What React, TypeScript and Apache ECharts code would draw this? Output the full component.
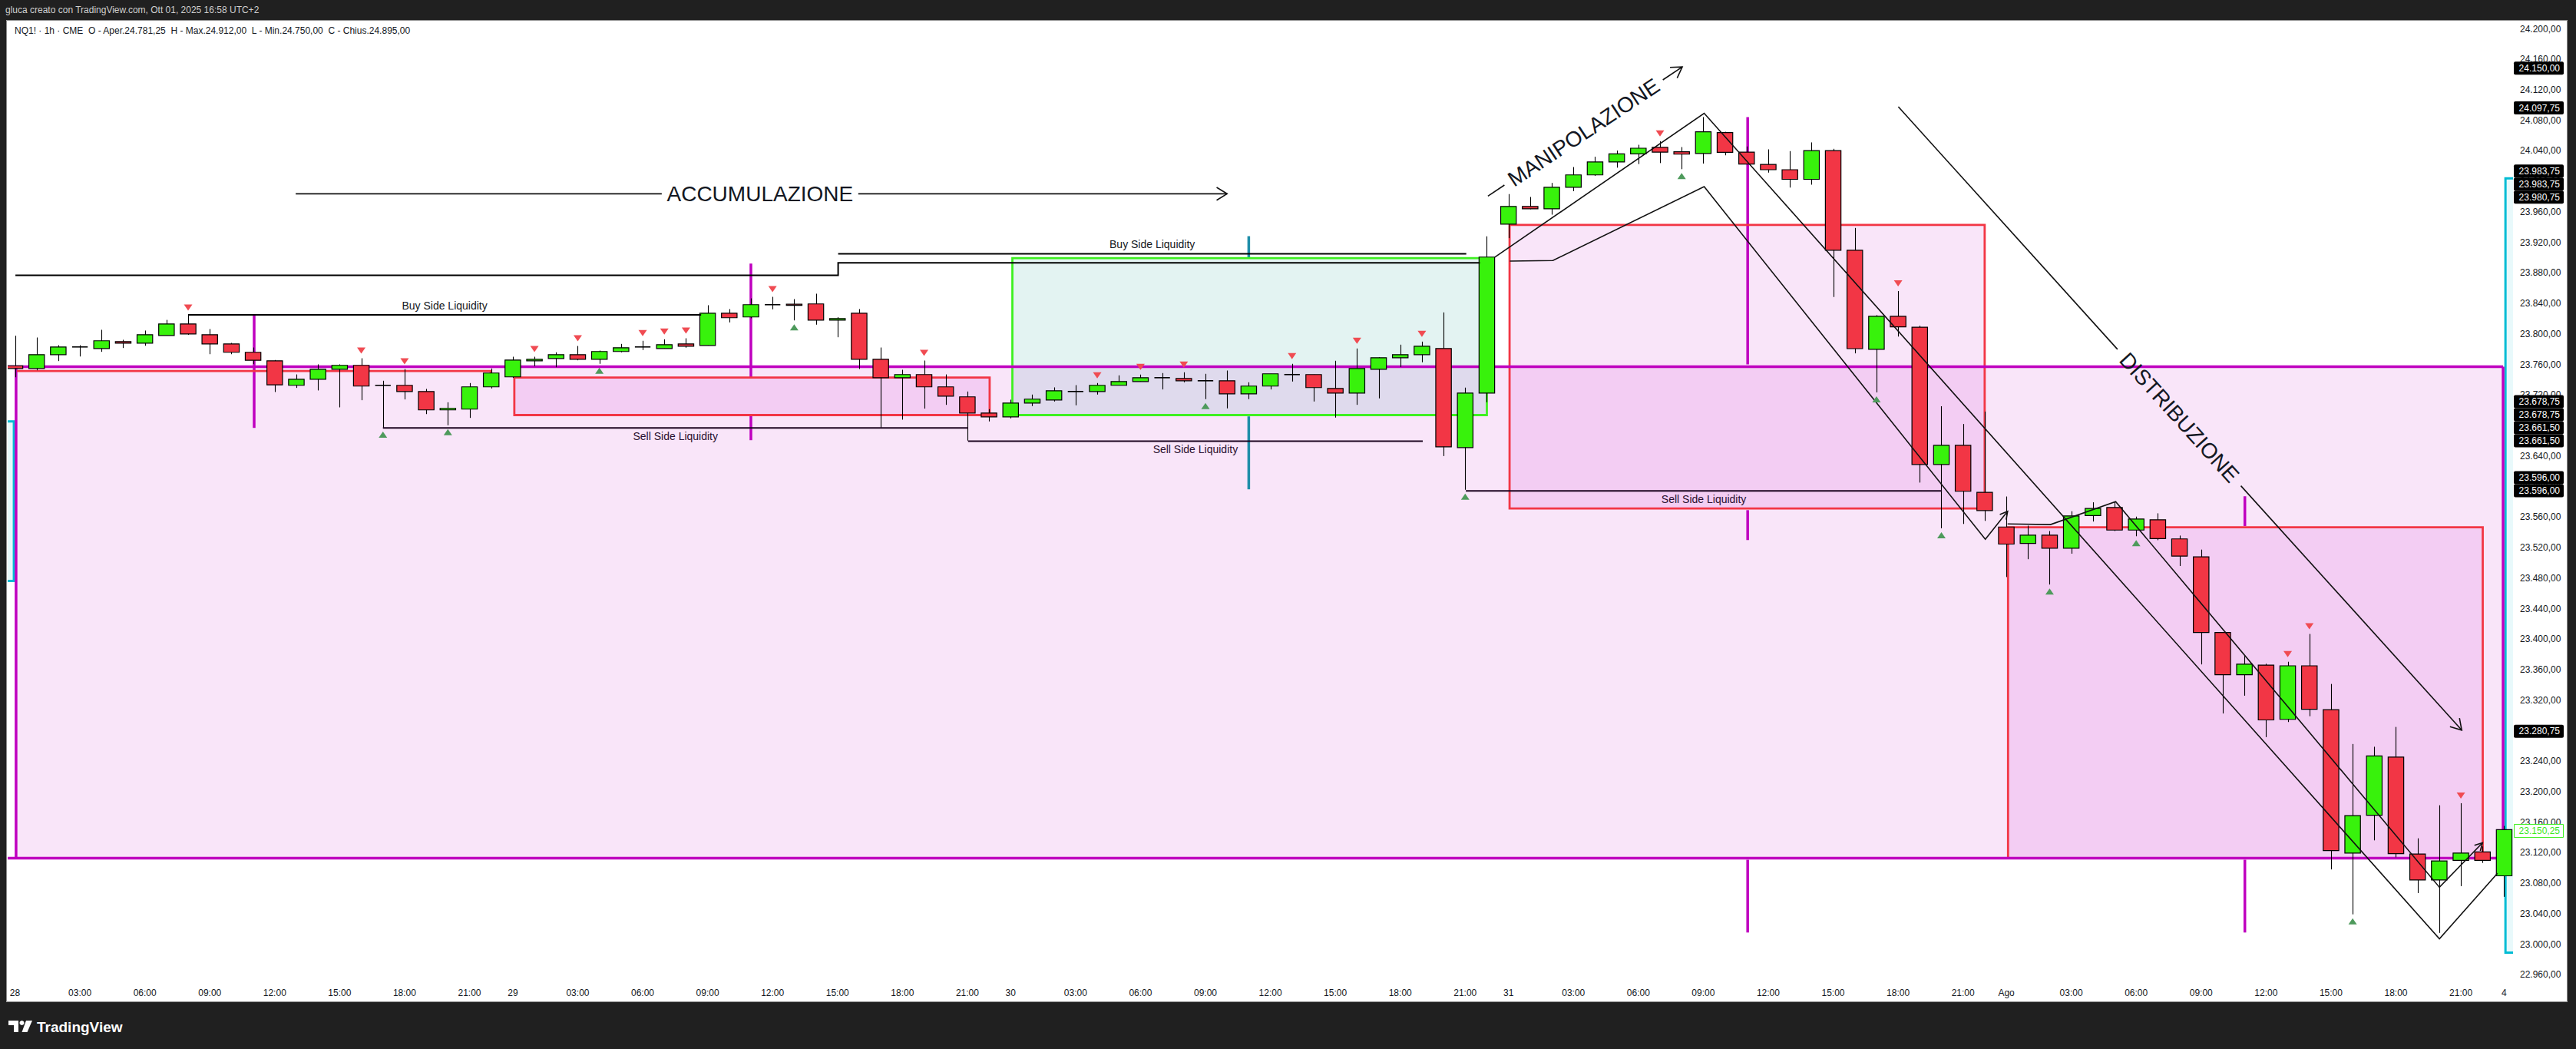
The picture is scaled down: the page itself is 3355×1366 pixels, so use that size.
import React, { useEffect, useRef } from "react";
import * as echarts from "echarts";

// ---------- candles (NQ1! 1h, first bar = Jul 28 00:00 UTC+2, 23 bars per session) ----------
const OPEN = [
  23758.4, 23754.8, 23772.9, 23783.0, 23781.0, 23790.0, 23788.0, 23798.0, 23813.2, 23799.0,
  23787.0, 23776.0, 23764.9, 23732.7, 23740.7, 23753.8, 23758.9, 23732.7, 23732.7, 23724.6,
  23700.5, 23701.5, 23730.7, 23743.8, 23764.9, 23767.9, 23772.9, 23766.9, 23777.0, 23783.0,
  23781.0, 23787.0, 23785.0, 23827.3, 23822.3, 23838.4, 23839.0, 23839.4, 23818.2, 23827.3,
  23766.9, 23742.7, 23746.8, 23730.7, 23717.6, 23696.4, 23691.4, 23709.5, 23713.5, 23724.6,
  23724.6, 23732.7, 23737.7, 23742.7, 23741.7, 23738.7, 23738.7, 23721.6, 23731.7, 23746.8,
  23746.8, 23728.6, 23722.6, 23753.8, 23768.9, 23772.9, 23781.0, 23651.1, 23722.6, 23944.0,
  23967.2, 23964.0, 23992.3, 24008.5, 24025.4, 24036.1, 24044.6, 24038.8, 24036.5, 24063.9,
  24038.4, 24022.3, 24015.3, 24002.7, 24040.4, 23909.8, 23780.0, 23823.2, 23808.9, 23629.0,
  23654.0, 23592.5, 23547.0, 23525.5, 23536.3, 23519.2, 23561.9, 23572.6, 23543.0, 23556.5,
  23531.4, 23507.9, 23408.7, 23353.4, 23366.0, 23294.9, 23365.1, 23307.5, 23119.7, 23169.2,
  23245.5, 23118.4, 23084.3, 23110.0, 23121.1, 23089.8,
];
const HIGH = [
  23797.7, 23795.4, 23785.3, 23785.3, 23805.5, 23792.4, 23804.5, 23818.5, 23824.6, 23806.5,
  23788.3, 23782.3, 23765.9, 23747.0, 23760.2, 23760.2, 23768.2, 23738.7, 23754.1, 23728.0,
  23710.5, 23735.7, 23754.8, 23770.2, 23770.2, 23776.0, 23784.3, 23778.3, 23787.0, 23791.1,
  23793.0, 23794.4, 23837.7, 23832.6, 23846.7, 23848.7, 23845.7, 23852.8, 23822.0, 23832.6,
  23782.3, 23753.1, 23765.2, 23747.0, 23724.6, 23701.5, 23713.9, 23720.6, 23730.0, 23733.0,
  23735.7, 23745.8, 23746.8, 23748.8, 23749.8, 23747.8, 23752.1, 23736.7, 23747.8, 23760.9,
  23746.8, 23764.9, 23781.0, 23769.5, 23786.0, 23790.0, 23828.3, 23729.7, 23928.0, 23983.4,
  23979.6, 23998.0, 24018.8, 24032.3, 24040.4, 24048.0, 24052.7, 24045.0, 24084.3, 24065.0,
  24045.8, 24042.0, 24039.7, 24051.1, 24042.7, 23939.0, 23824.7, 23856.3, 23810.8, 23705.3,
  23682.0, 23698.3, 23587.0, 23548.8, 23541.7, 23567.7, 23579.4, 23580.3, 23560.6, 23565.0,
  23535.8, 23517.4, 23408.7, 23378.1, 23367.8, 23370.4, 23406.9, 23341.3, 23262.6, 23259.0,
  23285.0, 23139.0, 23182.3, 23185.0, 23128.3, 23155.2,
];
const LOW = [
  23743.3, 23752.4, 23764.5, 23770.5, 23776.6, 23781.6, 23784.6, 23798.0, 23799.0, 23773.5,
  23773.5, 23760.5, 23723.9, 23729.3, 23726.0, 23703.8, 23713.2, 23677.0, 23714.2, 23695.0,
  23680.3, 23690.0, 23728.6, 23742.4, 23757.6, 23756.4, 23765.5, 23760.9, 23776.0, 23779.0,
  23781.0, 23782.0, 23785.0, 23815.2, 23820.6, 23832.3, 23817.8, 23812.2, 23795.7, 23754.1,
  23677.0, 23687.7, 23702.2, 23707.1, 23660.2, 23685.4, 23689.4, 23705.5, 23711.5, 23706.5,
  23720.6, 23732.7, 23737.7, 23727.3, 23736.7, 23714.6, 23702.5, 23714.6, 23727.3, 23737.7,
  23711.5, 23690.4, 23707.1, 23715.6, 23756.8, 23762.9, 23640.0, 23595.8, 23710.5, 23925.6,
  23963.5, 23956.4, 23987.2, 24007.3, 24018.0, 24022.7, 24024.0, 24016.0, 24023.4, 24034.2,
  24022.7, 24011.5, 23991.9, 23995.7, 23848.5, 23774.6, 23723.4, 23796.6, 23605.2, 23545.3,
  23551.0, 23555.0, 23481.4, 23504.8, 23471.6, 23512.0, 23554.2, 23541.7, 23534.9, 23529.7,
  23495.9, 23366.9, 23302.6, 23325.9, 23271.6, 23291.4, 23299.0, 23098.2, 23039.3, 23136.3,
  23114.0, 23067.2, 23015.0, 23076.2, 23106.7, 23062.3,
];
const CLOSE = [
  23754.8, 23772.9, 23783.0, 23783.0, 23791.1, 23788.0, 23799.0, 23813.2, 23800.1, 23787.0,
  23776.0, 23765.5, 23733.3, 23740.7, 23753.8, 23758.9, 23731.7, 23732.7, 23724.6, 23700.5,
  23702.5, 23730.7, 23748.8, 23765.9, 23766.9, 23772.9, 23766.9, 23777.0, 23782.0, 23783.0,
  23786.0, 23784.0, 23827.3, 23821.3, 23838.4, 23838.4, 23837.5, 23818.2, 23820.2, 23766.9,
  23742.7, 23746.8, 23730.7, 23718.6, 23696.4, 23691.4, 23709.5, 23714.6, 23725.6, 23724.6,
  23732.7, 23737.7, 23742.7, 23742.7, 23738.7, 23738.7, 23721.6, 23731.7, 23747.8, 23746.8,
  23729.7, 23722.6, 23754.8, 23768.9, 23772.9, 23784.0, 23652.1, 23722.6, 23900.8, 23967.2,
  23964.0, 23992.3, 24008.5, 24025.4, 24036.1, 24043.5, 24038.4, 24035.7, 24065.1, 24038.0,
  24022.7, 24015.3, 24002.7, 24040.4, 23909.8, 23780.8, 23823.2, 23809.3, 23629.0, 23654.0,
  23593.8, 23568.6, 23524.6, 23536.3, 23519.2, 23561.5, 23571.3, 23543.0, 23557.5, 23531.8,
  23508.8, 23408.7, 23353.4, 23367.3, 23294.1, 23365.1, 23308.0, 23122.9, 23168.7, 23246.9,
  23118.8, 23084.3, 23109.4, 23119.7, 23110.0, 23150.25,
];

// pivot markers (bar indices)
const SELL_MARKS = [8, 16, 18, 24, 26, 29, 30, 31, 35, 42, 50, 52, 54, 59, 62, 65, 76, 87, 105, 106, 113];
const BUY_MARKS = [17, 20, 27, 36, 55, 67, 77, 86, 89, 94, 98, 108];

// ---------- axes ----------
const TIME_TICK_IDX = [
  0, 3, 6, 9, 12, 15, 18, 21,
  23, 26, 29, 32, 35, 38, 41, 44,
  46, 49, 52, 55, 58, 61, 64, 67,
  69, 72, 75, 78, 81, 84, 87, 90,
  92, 95, 98, 101, 104, 107, 110, 113,
  115,
];
const TIME_TICK_TXT = [
  "28", "03:00", "06:00", "09:00", "12:00", "15:00", "18:00", "21:00",
  "29", "03:00", "06:00", "09:00", "12:00", "15:00", "18:00", "21:00",
  "30", "03:00", "06:00", "09:00", "12:00", "15:00", "18:00", "21:00",
  "31", "03:00", "06:00", "09:00", "12:00", "15:00", "18:00", "21:00",
  "Ago", "03:00", "06:00", "09:00", "12:00", "15:00", "18:00", "21:00",
  "4",
];
const PRICE_TICKS = [
  22960, 23000, 23040, 23080, 23120, 23160, 23200, 23240, 23280, 23320, 23360,
  23400, 23440, 23480, 23520, 23560, 23600, 23640, 23680, 23720, 23760, 23800,
  23840, 23880, 23920, 23960, 24000, 24040, 24080, 24120, 24160, 24200,
];
const TAG_PRICES = [24150, 24097.75, 23983.75, 23983.75, 23980.75, 23678.75, 23678.75, 23661.5, 23661.5, 23596, 23596, 23280.75];
const LAST_PRICE = 23150.25;

// ---------- drawings (bar index, price) ----------
// zones: [xStart, xEnd, priceTop, priceBottom]
const MAGENTA_ZONE = [0.05, 114.95, 23757.1, 23112.9];
const RED_ZONES = [
  [23.07, 45.03, 23743.0, 23693.7],
  [69.05, 91.0, 23942.9, 23571.2],
  [92.08, 114.01, 23546.6, 23112.9],
];
const GREEN_ZONE = [46.08, 68.0, 23899.4, 23693.7];
const CYAN_ZONES = [
  [-2, -0.05, 23685.4, 23476.3],
  [115.06, 118, 24004.0, 22989.1],
];
// liquidity lines: [xStart, xEnd, price]
const BUY_SIDE = [
  [8.0, 31.7, 23825.0],
  [38.03, 67.05, 23905.1],
];
const SELL_SIDE = [
  [17.0, 44.03, 23676.9],
  [44.03, 65.04, 23659.5],
  [67.03, 89.02, 23594.3],
];
const STEP_LINE = [[0.02, 23876.9], [38.03, 23876.9], [38.03, 23893.3], [67.68, 23893.3]];
const RED_EDGE = [[0.09, 23751.4], [21.98, 23751.4], [21.98, 23747.5]];
// session verticals: [x, priceTop, priceBottom]
const MAGENTA_SEGMENTS = [
  [11.05, 23824.6, 23676.9],
  [34.0, 23892.3, 23742.3],
  [34.0, 23693.7, 23660.8],
  [80.05, 24084.2, 23760.1],
  [80.05, 23569.1, 23529.9],
  [80.05, 23110.9, 23015.5],
  [103.02, 23587.3, 23548.2],
  [103.02, 23110.9, 23015.5],
];
const TEAL_SEGMENTS = [
  [57.0, 23928.2, 23899.4],
  [57.0, 23692.0, 23596.4],
];
// trend polylines
const MANIP_UPPER = [[68.37, 23900.6], [78.04, 24089.3], [112.01, 23007.3], [114.69, 23093.1]];
const MANIP_LOWER = [[69.06, 23895.5], [71.05, 23896.3], [78.04, 23993.1], [91.03, 23530.9], [92.06, 23567.7]];
const DIST_CHANNEL = [[92.06, 23551.1], [94.04, 23550.2], [97.05, 23580.3], [112.01, 23074.8], [114.0, 23133.1]];
// labelled arrows: [start, end]
const ACCUM_ARROW = [[12.97, 23983.75], [56.0, 23983.75]];
const MANIP_ARROW = [[68.05, 23980.75], [77.03, 24150.0]];
const DIST_ARROW = [[87.01, 24097.75], [113.04, 23280.75]];

// ---------- layout / style ----------
const W = 3355;
const H = 1366;
const X_MIN = -0.337;
const X_MAX = 115.41;
const Y_MIN = 22951.4;
const Y_MAX = 24210.57;
const FONT = "Liberation Sans, Arial, sans-serif";
const GREEN = "#38f20c";
const RED = "#f23645";
const INK = "#131722";
const MAGENTA = "#bf00bf";
const TEAL = "#1f8ea9";
const CYAN = "#00bcd4";

function fmtIt(v: number) {
  const s = v.toFixed(2);
  const [a, b] = s.split(".");
  return a.replace(/\B(?=(\d{3})+(?!\d))/g, ".") + "," + b;
}

function seg(a: number[], b: number[], stroke: string, lw: number) {
  return { type: "line", shape: { x1: a[0], y1: a[1], x2: b[0], y2: b[1] }, style: { stroke, lineWidth: lw } };
}
function poly(points: number[][], stroke: string, lw: number) {
  return { type: "polyline", shape: { points }, style: { stroke, lineWidth: lw, fill: "none" } };
}
function arrowHead(from: number[], tip: number[], stroke: string, lw: number, len = 13, spread = 0.5) {
  const th = Math.atan2(tip[1] - from[1], tip[0] - from[0]);
  const p1 = [tip[0] - len * Math.cos(th - spread), tip[1] - len * Math.sin(th - spread)];
  const p2 = [tip[0] - len * Math.cos(th + spread), tip[1] - len * Math.sin(th + spread)];
  return poly([p1, tip, p2], stroke, lw);
}
function lerp(a: number[], b: number[], t: number) {
  return [a[0] + (b[0] - a[0]) * t, a[1] + (b[1] - a[1]) * t];
}

function buildOption() {
  const zoneRect = (api: any, z: number[]) => {
    const a = api.coord([z[0], z[2]]);
    const b = api.coord([z[1], z[3]]);
    return { x: a[0], y: a[1], width: b[0] - a[0], height: b[1] - a[1] };
  };

  const fillsRender = (params: any, api: any) => {
    const ch: any[] = [];
    CYAN_ZONES.forEach((z) => {
      const r = zoneRect(api, z);
      ch.push({ type: "rect", shape: r, style: { fill: "rgba(0,188,212,0.09)", stroke: CYAN, lineWidth: 3 } });
    });
    ch.push({ type: "rect", shape: zoneRect(api, GREEN_ZONE), style: { fill: "rgba(0,150,136,0.11)" } });
    ch.push({ type: "rect", shape: zoneRect(api, MAGENTA_ZONE), style: { fill: "rgba(192,0,192,0.10)" } });
    RED_ZONES.forEach((z) => {
      ch.push({ type: "rect", shape: zoneRect(api, z), style: { fill: "rgba(192,0,192,0.10)" } });
    });
    MAGENTA_SEGMENTS.forEach((s) => ch.push(seg(api.coord([s[0], s[1]]), api.coord([s[0], s[2]]), MAGENTA, 3.5)));
    TEAL_SEGMENTS.forEach((s) => ch.push(seg(api.coord([s[0], s[1]]), api.coord([s[0], s[2]]), TEAL, 3.5)));
    ch.push({ type: "rect", shape: zoneRect(api, GREEN_ZONE), style: { fill: "none", stroke: "#3ef021", lineWidth: 2.8 } });
    RED_ZONES.forEach((z) => {
      ch.push({ type: "rect", shape: zoneRect(api, z), style: { fill: "none", stroke: RED, lineWidth: 2.8 } });
    });
    const mz = MAGENTA_ZONE;
    ch.push(seg(api.coord([X_MIN, mz[2]]), api.coord([mz[1], mz[2]]), MAGENTA, 3.5));
    ch.push(seg(api.coord([X_MIN, mz[3]]), api.coord([mz[1], mz[3]]), MAGENTA, 3.5));
    ch.push(seg(api.coord([mz[0], mz[2]]), api.coord([mz[0], mz[3]]), MAGENTA, 3.5));
    ch.push(seg(api.coord([mz[1], mz[2]]), api.coord([mz[1], mz[3]]), MAGENTA, 3.5));
    ch.push(poly(RED_EDGE.map((p) => api.coord(p)), RED, 2.8));
    return { type: "group", children: ch };
  };

  const candleRender = (params: any, api: any) => {
    const i = api.value(0);
    const o = api.value(1);
    const c = api.value(2);
    const l = api.value(3);
    const h = api.value(4);
    const po = api.coord([i, o]);
    const x = po[0];
    const yo = po[1];
    const yc = api.coord([i, c])[1];
    const yl = api.coord([i, l])[1];
    const yh = api.coord([i, h])[1];
    const bw = api.size([1, 0])[0] * 0.72;
    const top = Math.min(yo, yc);
    const bot = Math.max(yo, yc);
    const xs = Math.round(x) + 0.5;
    const ch: any[] = [seg([xs, yh], [xs, yl], "#000", 1.1)];
    if (bot - top < 1.2) {
      const ym = (top + bot) / 2;
      ch.push(seg([x - bw / 2, ym], [x + bw / 2, ym], "#000", 1.6));
    } else {
      ch.push({
        type: "rect",
        shape: { x: x - bw / 2, y: top, width: bw, height: bot - top },
        style: { fill: c > o ? GREEN : RED, stroke: "#000", lineWidth: 1.2 },
      });
    }
    return { type: "group", children: ch };
  };

  const overlayRender = (params: any, api: any) => {
    const ch: any[] = [];
    const C = (p: number[]) => api.coord(p);
    ch.push(poly(STEP_LINE.map(C), "#000", 2));
    BUY_SIDE.forEach((b) => {
      const a = C([b[0], b[2]]);
      const e = C([b[1], b[2]]);
      ch.push(seg(a, e, "#000", 2));
      ch.push({
        type: "text",
        x: (a[0] + e[0]) / 2,
        y: a[1] - 12,
        style: { text: "Buy Side Liquidity", fill: INK, fontSize: 14, fontFamily: FONT, align: "center", verticalAlign: "middle" },
      });
    });
    SELL_SIDE.forEach((b) => {
      const a = C([b[0], b[2]]);
      const e = C([b[1], b[2]]);
      ch.push(seg(a, e, "#1c0420", 2));
      ch.push({
        type: "text",
        x: (a[0] + e[0]) / 2,
        y: a[1] + 11,
        style: { text: "Sell Side Liquidity", fill: "#2a1030", fontSize: 14, fontFamily: FONT, align: "center", verticalAlign: "middle" },
      });
    });
    ch.push(poly(MANIP_UPPER.map(C), "#111", 1.6));
    const lower = MANIP_LOWER.map(C);
    ch.push(poly(lower, "#111", 1.6));
    ch.push(arrowHead(lower[lower.length - 2], lower[lower.length - 1], "#111", 1.6, 11));
    const dc = DIST_CHANNEL.map(C);
    ch.push(poly(dc, "#111", 1.6));
    ch.push(arrowHead(dc[dc.length - 2], dc[dc.length - 1], "#111", 1.6, 11));

    const labelled = (pts: number[][], text: string, g0: number, g1: number, withHead: boolean) => {
      const a = C(pts[0]);
      const b = C(pts[1]);
      ch.push(seg(a, lerp(a, b, g0), "#111", 1.6));
      ch.push(seg(lerp(a, b, g1), b, "#111", 1.6));
      if (withHead) ch.push(arrowHead(a, b, "#111", 1.6, 16, 0.55));
      const m = lerp(a, b, (g0 + g1) / 2);
      const rot = Math.atan2(-(b[1] - a[1]), b[0] - a[0]);
      ch.push({
        type: "text",
        x: m[0],
        y: m[1],
        rotation: rot,
        style: { text, fill: INK, fontSize: 28, fontFamily: FONT, align: "center", verticalAlign: "middle" },
      });
    };
    labelled(ACCUM_ARROW, "ACCUMULAZIONE", 0.393, 0.604, true);
    labelled(MANIP_ARROW, "MANIPOLAZIONE", 0.085, 0.9, true);
    labelled(DIST_ARROW, "DISTRIBUZIONE", 0.389, 0.608, true);

    SELL_MARKS.forEach((i) => {
      const p = C([i, HIGH[i]]);
      const y = p[1] - 10;
      ch.push({ type: "polygon", shape: { points: [[p[0] - 5.5, y - 4], [p[0] + 5.5, y - 4], [p[0], y + 4]] }, style: { fill: "#f04b52" } });
    });
    BUY_MARKS.forEach((i) => {
      const p = C([i, LOW[i]]);
      const y = p[1] + 9;
      ch.push({ type: "polygon", shape: { points: [[p[0] - 5.5, y + 4], [p[0] + 5.5, y + 4], [p[0], y - 4]] }, style: { fill: "#4e9a5c" } });
    });
    return { type: "group", children: ch };
  };

  const tagRender = (params: any, api: any) => {
    const cs = params.coordSys;
    const x0 = cs.x + cs.width + 1;
    const ch: any[] = [];
    const items = TAG_PRICES.map((p) => ({ p, y: api.coord([X_MAX, p])[1] + 1.5 }));
    items.sort((a, b) => b.y - a.y);
    let prev = Infinity;
    items.forEach((it) => {
      const y = Math.min(it.y, prev - 17);
      prev = y;
      ch.push({ type: "rect", shape: { x: x0, y: y - 8.5, width: 65, height: 17, r: 2 }, style: { fill: "#000" } });
      ch.push({
        type: "text",
        x: x0 + 60,
        y,
        style: { text: fmtIt(it.p), fill: "#fff", fontSize: 12, fontFamily: FONT, align: "right", verticalAlign: "middle" },
      });
    });
    const ly = api.coord([X_MAX, LAST_PRICE])[1] + 1.5;
    ch.push({ type: "rect", shape: { x: x0 + 0.5, y: ly - 8.5, width: 64, height: 17 }, style: { fill: "#fff", stroke: "#3cf01e", lineWidth: 1 } });
    ch.push({
      type: "text",
      x: x0 + 60,
      y: ly,
      style: { text: fmtIt(LAST_PRICE), fill: "#3ce81e", fontSize: 12, fontFamily: FONT, align: "right", verticalAlign: "middle" },
    });
    return { type: "group", children: ch };
  };

  const candleData = OPEN.map((o, i) => [i, o, CLOSE[i], LOW[i], HIGH[i]]);

  const g: any[] = [];
  const dark = "#202020";
  g.push({ type: "rect", shape: { x: 0, y: 0, width: W, height: 26 }, style: { fill: dark }, z: 100, silent: true });
  g.push({ type: "rect", shape: { x: 0, y: 0, width: 8, height: H }, style: { fill: dark }, z: 100, silent: true });
  g.push({ type: "rect", shape: { x: 3344, y: 0, width: W - 3344, height: H }, style: { fill: dark }, z: 100, silent: true });
  g.push({ type: "rect", shape: { x: 0, y: 1305, width: W, height: H - 1305 }, style: { fill: dark }, z: 100, silent: true });
  g.push({ type: "rect", shape: { x: 8.5, y: 26.5, width: 3335, height: 1278 }, style: { fill: "none", stroke: "#8c8c8c", lineWidth: 1 }, z: 101, silent: true });
  g.push({
    type: "text", x: 7, y: 13, z: 102, silent: true,
    style: { text: "gluca creato con TradingView.com, Ott 01, 2025 16:58 UTC+2", fill: "#cfcfcf", fontSize: 12, fontFamily: FONT, verticalAlign: "middle" },
  });
  g.push({
    type: "text", x: 19, y: 40, z: 102, silent: true,
    style: { text: "NQ1! · 1h · CME  O - Aper.24.781,25  H - Max.24.912,00  L - Min.24.750,00  C - Chius.24.895,00", fill: INK, fontSize: 12, fontFamily: FONT, verticalAlign: "middle" },
  });
  g.push({ type: "polygon", shape: { points: [[11, 1329], [24, 1329], [24, 1344], [18, 1344], [18, 1335], [11, 1335]] }, style: { fill: "#fff" }, z: 102, silent: true });
  g.push({ type: "circle", shape: { cx: 28.5, cy: 1332, r: 3 }, style: { fill: "#fff" }, z: 102, silent: true });
  g.push({ type: "polygon", shape: { points: [[34, 1329], [42, 1329], [35.5, 1344], [28.5, 1344]] }, style: { fill: "#fff" }, z: 102, silent: true });
  g.push({
    type: "text", x: 48, y: 1337, z: 102, silent: true,
    style: { text: "TradingView", fill: "#fff", fontSize: 19, fontWeight: "bold", fontFamily: FONT, verticalAlign: "middle" },
  });

  return {
    animation: false,
    backgroundColor: "#ffffff",
    grid: { left: 10, right: W - 3273, top: 27, bottom: H - 1278, containLabel: false },
    tooltip: { show: false },
    xAxis: {
      type: "value",
      min: X_MIN,
      max: X_MAX,
      axisLine: { show: false },
      axisTick: { show: false },
      splitLine: { show: false },
      axisLabel: {
        customValues: TIME_TICK_IDX,
        formatter: (v: number) => {
          const k = TIME_TICK_IDX.indexOf(Math.round(v));
          return k >= 0 ? TIME_TICK_TXT[k] : "";
        },
        color: INK,
        fontSize: 12,
        fontFamily: FONT,
        margin: 9,
        hideOverlap: false,
      },
    },
    yAxis: {
      type: "value",
      position: "right",
      min: Y_MIN,
      max: Y_MAX,
      scale: true,
      axisLine: { show: false },
      axisTick: { show: false },
      splitLine: { show: false },
      axisLabel: {
        customValues: PRICE_TICKS,
        formatter: (v: number) => fmtIt(v),
        color: INK,
        fontSize: 12,
        fontFamily: FONT,
        margin: 9,
      },
    },
    series: [
      { type: "custom", name: "zones", z: 1, clip: true, silent: true, renderItem: fillsRender, data: [[50, 23500]] },
      { type: "custom", name: "candles", z: 2, clip: true, silent: true, renderItem: candleRender, data: candleData, encode: { x: 0, y: [1, 2, 3, 4] } },
      { type: "custom", name: "drawings", z: 3, clip: true, silent: true, renderItem: overlayRender, data: [[50, 23500]] },
      { type: "custom", name: "tags", z: 4, clip: false, silent: true, renderItem: tagRender, data: [[50, 23500]] },
    ],
    graphic: { elements: g },
  };
}

export default function App() {
  const ref = useRef<HTMLDivElement>(null);
  useEffect(() => {
    document.body.style.margin = "0";
    const chart = echarts.init(ref.current as HTMLDivElement, null, { renderer: "svg" });
    chart.setOption(buildOption() as any);
    return () => chart.dispose();
  }, []);
  return <div ref={ref} style={{ position: "fixed", left: 0, top: 0, width: W, height: H }} />;
}
